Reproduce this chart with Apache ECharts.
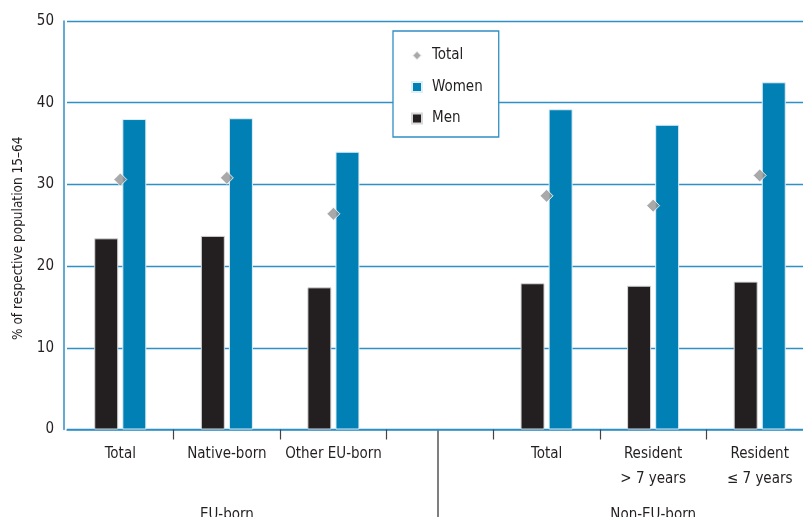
<!DOCTYPE html>
<html>
<head>
<meta charset="utf-8">
<script src="https://cdn.jsdelivr.net/npm/echarts@6/dist/echarts.min.js"></script>
<style>html,body{margin:0;padding:0;background:#fff;}#c{width:803px;height:517px;}</style>
</head>
<body>
<div id="c"></div>
<script>
const categories = ['Total', 'Native-born', 'Other EU-born', '', 'Total', 'Resident\n> 7 years', 'Resident\n\u2264 7 years'];
const groupLabels = ['', 'EU-born', '', '', '', 'Non-EU-born', ''];
const menValues = [23.4, 23.7, 17.4, null, 17.9, 17.6, 18.1];
const womenValues = [38.0, 38.1, 34.0, null, 39.2, 37.3, 42.5];
const totalValues = [30.6, 30.8, 26.4, null, 28.6, 27.4, 31.1];
const yTicks = [0, 10, 20, 30, 40, 50];

const FONT = "'Liberation Sans Narrow', 'DejaVu Sans Condensed', 'Roboto', sans-serif";
const BLUE_LINE = '#2f8fc6';
const TXT = '#231f20';

const chart = echarts.init(document.getElementById('c'), null, {renderer: 'canvas'});
const option = {
  animation: false,
  backgroundColor: '#ffffff',
  textStyle: {fontFamily: FONT},
  grid: {left: 67, right: -10, top: 21, bottom: 87.5, containLabel: false, outerBoundsMode: 'none'},
  legend: {
    orient: 'vertical',
    left: 393, top: 31,
    padding: [17, 16, 11, 18],
    itemGap: 16.5,
    itemWidth: 10, itemHeight: 10,
    backgroundColor: '#ffffff',
    borderColor: BLUE_LINE,
    borderWidth: 1.3,
    textStyle: {fontFamily: FONT, fontSize: 15, color: TXT, padding: [0, 0, 0, 5]},
    data: [
      {name: 'Total', icon: 'diamond'},
      {name: 'Women', icon: 'rect'},
      {name: 'Men', icon: 'rect'}
    ]
  },
  xAxis: [
    {
      type: 'category',
      data: categories,
      boundaryGap: true,
      axisLine: {show: true, lineStyle: {color: BLUE_LINE, width: 1.5}},
      axisTick: {show: true, length: 10, lineStyle: {color: '#444', width: 1.2},
                 interval: function (i) { return i !== 0; }},
      axisLabel: {margin: 12, fontSize: 15, lineHeight: 25, color: TXT, fontFamily: FONT, interval: 0},
      splitLine: {show: false}
    },
    {
      type: 'category',
      data: groupLabels,
      position: 'bottom',
      gridIndex: 0,
      axisLine: {show: false},
      axisTick: {show: false},
      axisLabel: {margin: 78, fontSize: 15, color: TXT, fontFamily: FONT, interval: 0},
      splitLine: {show: false}
    }
  ],
  yAxis: {
    type: 'value',
    offset: 3,
    min: yTicks[0], max: yTicks[yTicks.length - 1], interval: 10,
    name: '% of respective population 15\u201364',
    nameLocation: 'middle',
    nameGap: 39,
    nameRotate: 90,
    nameTextStyle: {fontSize: 13.5, color: TXT, fontFamily: FONT, padding: [0, 26, 0, 0]},
    axisLine: {show: true, lineStyle: {color: BLUE_LINE, width: 1.5}},
    axisTick: {show: false},
    axisLabel: {margin: 10, fontSize: 15, color: TXT, fontFamily: FONT},
    splitLine: {show: true, lineStyle: {color: BLUE_LINE, width: 1.3}}
  },
  series: [
    {
      name: 'Men', type: 'bar', data: menValues,
      barWidth: 24, barGap: '17%',
      itemStyle: {color: '#231f20', borderColor: '#d8d8d8', borderWidth: 1}
    },
    {
      name: 'Women', type: 'bar', data: womenValues,
      barWidth: 24, barGap: '17%',
      itemStyle: {color: '#0080b4', borderColor: '#e0eef6', borderWidth: 1}
    },
    {
      name: 'Total', type: 'scatter', data: totalValues,
      symbol: 'diamond', symbolSize: 13, z: 5,
      itemStyle: {color: '#939393', borderColor: '#ffffff', borderWidth: 1}
    }
  ]
};
chart.setOption(option);

const dx = chart.convertToPixel({xAxisIndex: 0}, 3);
const y0 = chart.convertToPixel({yAxisIndex: 0}, 0);
const yTop = chart.convertToPixel({yAxisIndex: 0}, yTicks[yTicks.length - 1]);
const axisX = chart.convertToPixel({xAxisIndex: 0}, 0) - (dx - chart.convertToPixel({xAxisIndex: 0}, 0)) / 6;
chart.setOption({
  graphic: [{
    type: 'line',
    shape: {x1: dx - 2, y1: y0 + 1, x2: dx - 2, y2: 517},
    style: {stroke: '#555', lineWidth: 1.5},
    z: 10
  }]
});
</script>
</body>
</html>
